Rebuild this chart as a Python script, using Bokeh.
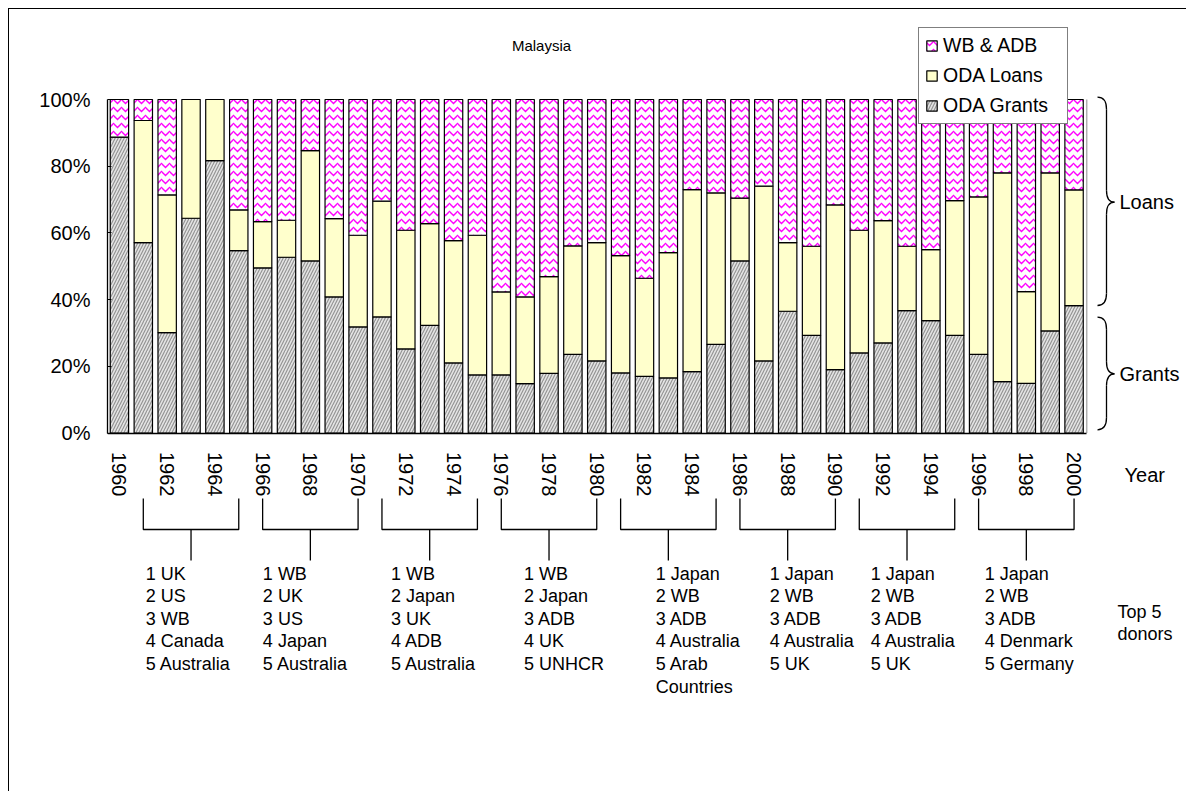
from bokeh.plotting import figure
from bokeh.models import ColumnDataSource, Range1d, FixedTicker, Legend, LegendItem
from bokeh.core.properties import value
from bokeh.embed import file_html
from bokeh.resources import INLINE

# ---------------- data ----------------
years = list(range(1960, 2001))
oda_grants = [88.7, 57.1, 30.1, 64.4, 81.7, 54.7, 49.5, 52.7, 51.6, 40.8,
              31.8, 34.8, 25.2, 32.3, 21.0, 17.4, 17.4, 14.8, 17.9, 23.6,
              21.6, 18.0, 17.0, 16.5, 18.4, 26.6, 51.6, 21.6, 36.5, 29.3,
              19.0, 24.0, 27.0, 36.7, 33.7, 29.3, 23.6, 15.4, 14.9, 30.6,
              38.2]
oda_loans = [0.0, 36.6, 41.3, 35.6, 18.3, 12.2, 13.9, 11.1, 33.1, 23.5,
             27.5, 34.7, 35.6, 30.5, 36.7, 41.9, 24.9, 26.0, 29.0, 32.5,
             35.5, 35.2, 29.4, 37.6, 54.6, 45.4, 18.8, 52.4, 20.6, 26.7,
             49.4, 36.8, 36.7, 19.3, 21.3, 40.4, 47.2, 62.6, 27.5, 47.4,
             34.7]
wb_adb = [11.3, 6.3, 28.6, 0.0, 0.0, 33.1, 36.6, 36.2, 15.3, 35.7,
          40.7, 30.5, 39.2, 37.2, 42.3, 40.7, 57.7, 59.2, 53.1, 43.9,
          42.9, 46.8, 53.6, 45.9, 27.0, 28.0, 29.6, 26.0, 42.9, 44.0,
          31.6, 39.2, 36.3, 44.0, 45.0, 30.3, 29.2, 22.0, 57.6, 22.0,
          27.1]
series_names = ["ODA Grants", "ODA Loans", "WB & ADB"]

y_ticks = [0.0, 0.2, 0.4, 0.6, 0.8, 1.0]
y_tick_labels = ["0%", "20%", "40%", "60%", "80%", "100%"]
x_ticks = years[::2]
x_tick_labels = [str(y) for y in x_ticks]

period_start = [1961, 1966, 1971, 1976, 1981, 1986, 1991, 1996]
period_end = [1965, 1970, 1975, 1980, 1985, 1990, 1995, 2000]
top_donors = [
    ["UK", "US", "WB", "Canada", "Australia"],
    ["WB", "UK", "US", "Japan", "Australia"],
    ["WB", "Japan", "UK", "ADB", "Australia"],
    ["WB", "Japan", "ADB", "UK", "UNHCR"],
    ["Japan", "WB", "ADB", "Australia", "Arab\nCountries"],
    ["Japan", "WB", "ADB", "Australia", "UK"],
    ["Japan", "WB", "ADB", "Australia", "UK"],
    ["Japan", "WB", "ADB", "Denmark", "Germany"],
]

# ---------------- layout ----------------
FONT = value("Liberation Sans")
W, H = 1178, 783
MB_L, MB_B = 98, 80
ORIGIN = 9                      # page offset of the canvas (margin + border)
FR_L = ORIGIN + MB_L            # frame left on page
FR_R = ORIGIN + W               # frame right on page
FR_T = ORIGIN                   # frame top on page
FR_B = ORIGIN + H - MB_B        # frame bottom on page
BAR_L, BAR_R = 107.0, 1085.5    # page x of the bar area
BAR_0, BAR_1 = 432.5, 99.0      # page y of 0% and 100%
X0 = years[0] - 0.5
X1 = years[-1] + 0.5
PPY = (BAR_R - BAR_L) / (X1 - X0)
PPU = BAR_0 - BAR_1


def X(px):
    return X0 + (px - FR_L) / PPY


def Y(py):
    return (BAR_0 - py) / PPU


x_range = Range1d(X0, X0 + (FR_R - FR_L) / PPY)
y_range = Range1d(-(FR_B - BAR_0) / PPU, 1 + (BAR_1 - FR_T) / PPU)

p = figure(width=W, height=H, x_range=x_range, y_range=y_range,
           output_backend="svg", toolbar_location=None,
           min_border_left=MB_L, min_border_right=0, min_border_top=0,
           min_border_bottom=MB_B)
p.styles = {"margin-left": "8px", "margin-top": "8px",
            "border-left": "1px solid #000000", "border-top": "1px solid #000000"}
p.outline_line_color = None
p.grid.visible = False
p.background_fill_color = "white"
p.border_fill_color = "white"

# axes
xa = p.xaxis[0]
xa.ticker = FixedTicker(ticks=x_ticks)
xa.major_label_overrides = {t: l for t, l in zip(x_ticks, x_tick_labels)}
xa.bounds = (X0, X1)
xa.fixed_location = 0
xa.major_tick_in = 0
xa.major_tick_out = 0
xa.minor_tick_in = 0
xa.minor_tick_out = 0
xa.major_label_orientation = "vertical"
xa.major_label_standoff = 19
xa.major_label_text_font = "Liberation Sans"
xa.major_label_text_font_size = "20px"
xa.major_label_text_color = "black"
xa.axis_line_color = "black"
xa.axis_line_width = 1.3

ya = p.yaxis[0]
ya.ticker = FixedTicker(ticks=y_ticks)
ya.major_label_overrides = {t: l for t, l in zip(y_ticks, y_tick_labels)}
ya.bounds = (0, 1)
ya.major_tick_in = 4
ya.major_tick_out = 0
ya.minor_tick_in = 0
ya.minor_tick_out = 0
ya.major_label_standoff = 17
ya.major_label_text_font = "Liberation Sans"
ya.major_label_text_font_size = "20px"
ya.major_label_text_color = "black"
ya.axis_line_color = "black"
ya.axis_line_width = 1.3

# bars
src = ColumnDataSource(dict(
    year=years,
    grants=[v / 100 for v in oda_grants],
    loans=[v / 100 for v in oda_loans],
    wb=[v / 100 for v in wb_adb],
))
rs = p.vbar_stack(["grants", "loans", "wb"], x="year", width=0.77, source=src,
                  fill_color=["#e4e4e4", "#ffffcc", "#ffffff"],
                  line_color="black", line_width=1.2,
                  hatch_pattern=["/", " ", "horizontal_wave"],
                  hatch_color=["#949494", "#ffffcc", "#ff00ff"],
                  hatch_scale=[6, 12, 8],
                  hatch_weight=[1.2, 1, 1.4])

# light grey right edge of the plot area
p.segment(x0=[X1 + 0.03], y0=[0], x1=[X1 + 0.03], y1=[1], line_color="#b0b0b0", line_width=1.5)

legend = Legend(items=[LegendItem(label=series_names[2], renderers=[rs[2]]),
                       LegendItem(label=series_names[1], renderers=[rs[1]]),
                       LegendItem(label=series_names[0], renderers=[rs[0]])],
                location=(918 - FR_L, FR_B - 124), margin=0,
                padding=6, spacing=7, glyph_width=13, glyph_height=13,
                label_height=22, label_width=118, label_standoff=5,
                label_text_font="Liberation Sans", label_text_font_size="19.5px",
                label_text_color="black",
                border_line_color="black", border_line_width=1,
                background_fill_color="white", background_fill_alpha=1)
p.add_layout(legend)

# title
p.text(x=[X(541)], y=[Y(45)], text=["Malaysia"], text_font=FONT,
       text_font_size="15px", text_align="center", text_baseline="middle",
       text_color="black")

# curly braces on the right
brace_spans = [(Y(305), Y(96.7), Y(201.7)), (Y(429.3), Y(316.7), Y(373.3))]
brace_text = ["Loans", "Grants"]
xe, xs, xt = X(1097), X(1106), X(1114)
r = 12 / PPU
q = dict(x0=[], y0=[], x1=[], y1=[], cx=[], cy=[])
s = dict(x0=[], y0=[], x1=[], y1=[])


def addq(a, b, c, d, e, f):
    q["x0"].append(a); q["y0"].append(b); q["x1"].append(c)
    q["y1"].append(d); q["cx"].append(e); q["cy"].append(f)


for yb, yt, ym in brace_spans:
    addq(xe, yt, xs, yt - r, xs, yt)
    addq(xs, ym + r, xt, ym, xs, ym)
    addq(xt, ym, xs, ym - r, xs, ym)
    addq(xs, yb + r, xe, yb, xs, yb)
    for a, b in ((yt - r, ym + r), (ym - r, yb + r)):
        s["x0"].append(xs); s["y0"].append(a); s["x1"].append(xs); s["y1"].append(b)
p.quadratic(x0="x0", y0="y0", x1="x1", y1="y1", cx="cx", cy="cy",
            source=ColumnDataSource(q), line_color="black", line_width=1.3)
p.segment(x0="x0", y0="y0", x1="x1", y1="y1", source=ColumnDataSource(s),
          line_color="black", line_width=1.3)
p.text(x=[X(1119)] * 2, y=[sp[2] for sp in brace_spans], text=brace_text,
       text_font=FONT, text_font_size="20px", text_align="left",
       text_baseline="middle", text_color="black")

# right-hand captions
p.text(x=[X(1124)], y=[Y(474)], text=["Year"], text_font=FONT,
       text_font_size="20px", text_align="left", text_baseline="middle",
       text_color="black")
p.text(x=[X(1117)], y=[Y(601)], text=["Top 5\ndonors"], text_font=FONT,
       text_font_size="18px", text_align="left", text_baseline="top",
       text_line_height=1.13, text_color="black")

# period brackets
br_top, br_mid, br_bot = Y(498), Y(529), Y(560)
mids = [(a + b) / 2 for a, b in zip(period_start, period_end)]
p.multi_line(xs=[[a, a, b, b] for a, b in zip(period_start, period_end)],
             ys=[[br_top, br_mid, br_mid, br_top] for _ in period_start],
             line_color="black", line_width=1.3)
p.segment(x0=mids, y0=[br_mid] * len(mids), x1=mids, y1=[br_bot] * len(mids),
          line_color="black", line_width=1.3)

donor_dx = [-1.9, -1.99, -1.62, -1.05, -0.53, -0.75, -1.52, -1.74]
donor_text = ["\n".join(f"{i + 1} {d}" for i, d in enumerate(lst)) for lst in top_donors]
p.text(x=[m + d for m, d in zip(mids, donor_dx)], y=[Y(563)] * len(mids),
       text=donor_text, text_font=FONT, text_font_size="18px",
       text_align="left", text_baseline="top", text_line_height=1.13,
       text_color="black")

open("out.html", "w").write(file_html(p, INLINE))
